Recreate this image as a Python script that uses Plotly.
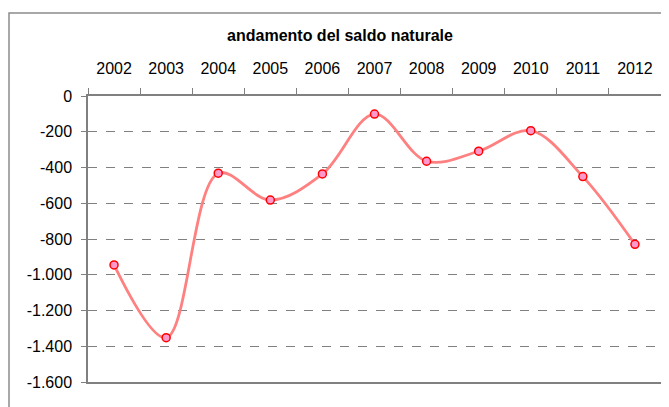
import plotly.graph_objects as go

years = ["2002", "2003", "2004", "2005", "2006", "2007", "2008", "2009", "2010", "2011", "2012"]
saldo = [-945, -1352, -432, -582, -436, -101, -365, -309, -194, -451, -830]
y_ticks = [0, -200, -400, -600, -800, -1000, -1200, -1400, -1600]
y_labels = ["0", "-200", "-400", "-600", "-800", "-1.000", "-1.200", "-1.400", "-1.600"]

font_family = "Liberation Sans, Arial, sans-serif"
grey = "#808080"

W, H = 661, 399  # page body has an 8px margin

fig = go.Figure()
fig.add_trace(go.Scatter(
    x=years, y=saldo,
    mode="lines+markers",
    line=dict(color="#ff8080", width=2.8, shape="spline", smoothing=1),
    marker=dict(size=8, color="#ff99cc", line=dict(color="#ff0000", width=1.5)),
    showlegend=False,
    hoverinfo="x+y",
))

fig.update_layout(
    width=W, height=H,
    margin=dict(l=80, r=8, t=88, b=25, autoexpand=False),
    paper_bgcolor="white", plot_bgcolor="white",
    font=dict(family=font_family, color="black", size=16),
    title=dict(text="<b>andamento del saldo naturale</b>",
               x=332 / W, xanchor="center", xref="container",
               y=1 - 27 / H, yanchor="middle", yref="container",
               font=dict(size=16, family=font_family, color="black")),
    xaxis=dict(
        type="category", side="top", range=[-0.5, 10.5], automargin=False,
        showline=True, linecolor=grey, linewidth=1.5, mirror=True,
        ticks="outside", tickson="boundaries", ticklen=6, tickcolor=grey, tickwidth=1,
        showgrid=False, zeroline=False,
        tickfont=dict(size=16), ticklabelstandoff=14,
    ),
    yaxis=dict(
        range=[-1600, 0], automargin=False,
        tickvals=y_ticks, ticktext=y_labels,
        showline=True, linecolor=grey, linewidth=1.5, mirror=True,
        ticks="outside", ticklen=5, tickcolor=grey, tickwidth=1,
        showgrid=True, gridcolor=grey, gridwidth=1, griddash="dash",
        zeroline=False,
        tickfont=dict(size=16), ticklabelstandoff=6,
    ),
    shapes=[dict(
        type="rect", xref="paper", yref="paper",
        x0=(9 - 88) / 573, x1=(673 - 88) / 573,
        y0=(382 - 412) / 286, y1=(382 - 13) / 286,
        line=dict(color="#8c8c8c", width=1.5), fillcolor="rgba(0,0,0,0)", layer="below",
    )],
)

fig.write_html("out.html")
